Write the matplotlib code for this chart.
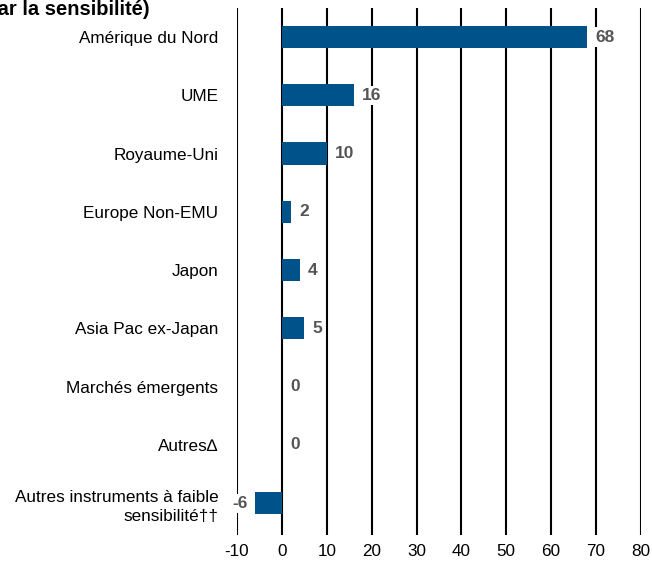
import matplotlib
matplotlib.use("Agg")
import matplotlib.pyplot as plt

plt.rcParams["font.family"] = ["Liberation Sans", "DejaVu Sans"]
plt.rcParams["axes.unicode_minus"] = False

categories = [
    "Amérique du Nord",
    "UME",
    "Royaume-Uni",
    "Europe Non-EMU",
    "Japon",
    "Asia Pac ex-Japan",
    "Marchés émergents",
    "Autres\u2206",
    "Autres instruments à faible\nsensibilité\u2020\u2020",
]
values = [68, 16, 10, 2, 4, 5, 0, 0, -6]
xticks = list(range(-10, 90, 10))

fig = plt.figure(figsize=(6.52, 5.64), dpi=100)
ax = fig.add_axes([0.3635, 0.051, 0.6195, 0.935])

pos = list(range(len(categories)))
ax.barh(pos, values, height=0.38, color="#00538A", zorder=2)

for x in xticks:
    ax.axvline(x, color="black", linewidth=1.5, zorder=1)

for y, v in zip(pos, values):
    if v < 0:
        xt, ha = v - 1.5, "right"
    else:
        xt, ha = v + 1.8, "left"
    ax.text(xt, y, str(v), ha=ha, va="center", fontsize=12.5, fontweight="bold",
            color="#555555", zorder=3,
            bbox=dict(facecolor="white", edgecolor="none", pad=1.5))

ax.set_xlim(-10, 80)
ax.set_ylim(8.55, -0.5)
ax.set_xticks(xticks)
ax.set_yticks(pos)
ax.set_yticklabels(categories)
ax.tick_params(axis="both", length=0, labelsize=12.3)
ax.tick_params(axis="y", pad=13.5)
ax.tick_params(axis="x", pad=6.5)
for s in ax.spines.values():
    s.set_visible(False)
for lbl in ax.get_yticklabels():
    lbl.set_multialignment("right")
    lbl.set_linespacing(1.4)

# titre coupé en haut à gauche, comme dans l'original
fig.text(0.23, 1.0, "(Pondérée par la sensibilité)", ha="right", va="top",
         fontsize=14.5, fontweight="bold")

fig.savefig("out.png", dpi=100)
